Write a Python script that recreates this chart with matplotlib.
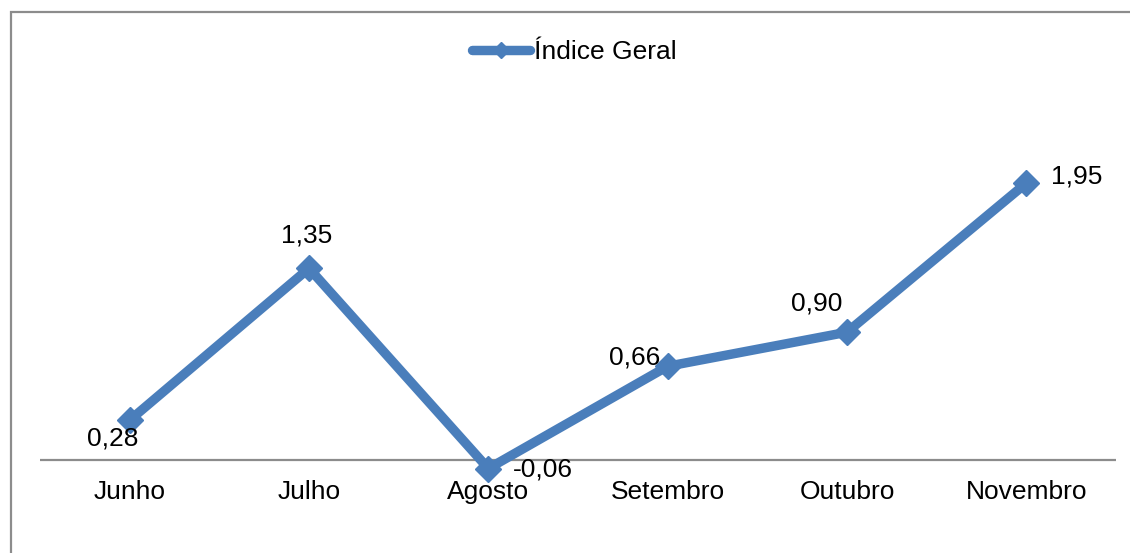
import matplotlib.pyplot as plt
from matplotlib.patches import Rectangle

plt.rcParams['font.family'] = ['Liberation Sans', 'DejaVu Sans']

meses = ['Junho', 'Julho', 'Agosto', 'Setembro', 'Outubro', 'Novembro']
indice = [0.28, 1.35, -0.06, 0.66, 0.90, 1.95]
# where each data label sits relative to its point (pixels)
label_offsets = [(-17, -18), (-2, 33), (55, -1), (-33, 9), (-30, 29), (50, 7)]

W, H = 1130, 553
fig = plt.figure(figsize=(W / 100, H / 100), dpi=100)

# outer chart frame (runs off the right and bottom edges)
fig.patches.append(Rectangle((10.5 / W, -0.1), 1.2, (H - 12.5) / H + 0.1,
                             transform=fig.transFigure, fill=False,
                             edgecolor='#8c8c8c', linewidth=1.6))

ax = fig.add_axes([40 / W, (H - 531) / H, 1076 / W, 426 / H])
blue = '#4a7ebb'
x = range(len(meses))
ax.plot(x, indice, color=blue, linewidth=6.8, marker='D', markersize=13,
        markerfacecolor=blue, markeredgecolor=blue, solid_capstyle='round',
        label='Índice Geral', zorder=3)

ax.set_xlim(-0.5, len(meses) - 0.5)
ax.set_ylim(-0.5, 2.5)
ax.axhline(0, color='#8c8c8c', linewidth=1.6, zorder=1)

for s in ax.spines.values():
    s.set_visible(False)
ax.set_yticks([])
ax.set_xticks([])
for i, m in enumerate(meses):
    ax.annotate(m, (i, 0), xytext=(0, -32), textcoords='offset pixels',
                ha='center', va='center', fontsize=19)

for i, v in enumerate(indice):
    dx, dy = label_offsets[i]
    ax.annotate(f'{v:.2f}'.replace('.', ','), (i, v), xytext=(dx, dy),
                textcoords='offset pixels', ha='center', va='center',
                fontsize=19, zorder=4)

leg = fig.legend(loc='center', bbox_to_anchor=(574 / W, 1 - 52 / H),
                 frameon=False, fontsize=19, handlelength=2.2,
                 handletextpad=0.15, markerscale=0.65)

fig.savefig('out.png', dpi=100)
